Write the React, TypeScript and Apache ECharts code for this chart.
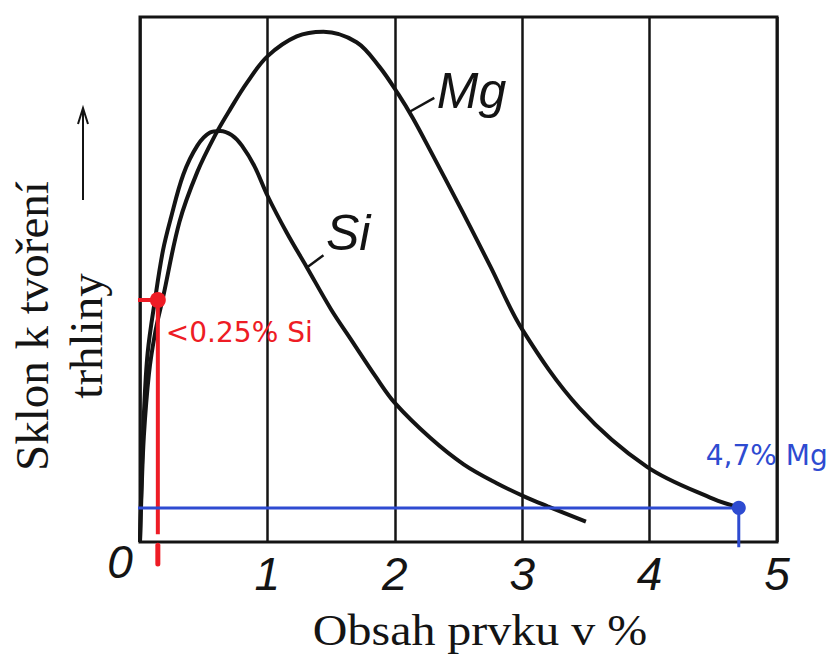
import React, { useEffect, useRef } from "react";
import * as echarts from "echarts";

// Obsah prvku (%) -> Sklon k tvoření trhliny (relative scale 0..100)
const mgX = [0, 0.01, 0.03, 0.07, 0.12, 0.18, 0.31, 0.45, 0.59, 0.71, 0.84, 1.0, 1.23, 1.44, 1.7, 1.88, 2.03, 2.14, 2.28, 2.54, 2.75, 3.0, 3.45, 3.98, 4.5, 4.7];
const mgY = [0, 8, 20, 32, 40, 46.5, 61, 70.5, 77.5, 82.5, 87.5, 92.5, 96.3, 97.2, 95.2, 90.5, 85.2, 80.8, 74.5, 62.5, 52.5, 40.5, 25.5, 14.3, 8.2, 6.6];

const siX = [0, 0.01, 0.03, 0.06, 0.12, 0.18, 0.24, 0.34, 0.45, 0.55, 0.63, 0.72, 0.8, 0.9, 1.0, 1.15, 1.31, 1.5, 1.65, 1.85, 2.0, 2.28, 2.54, 2.8, 3.04, 3.2, 3.5];
const siY = [0, 10, 24, 36, 46.5, 55.5, 61.5, 70, 75.5, 78, 78.3, 77.5, 75.5, 71.5, 66, 59, 52.3, 44.3, 38.8, 31.5, 26.5, 19.8, 14.8, 11.2, 8.4, 6.8, 3.9];

const xTickLabels = ["0", "1", "2", "3", "4", "5"];

// annotations
const siLimit = { x: 0.14, y: 46.1, label: "<0.25% Si" };
const mgLimit = { x: 4.7, y: 6.5, label: "4,7% Mg" };
const mgTag = { from: [2.12, 82], to: [2.31, 84.6], label: "Mg" };
const siTag = { from: [1.31, 52.3], to: [1.44, 54.6], label: "Si" };

const xTitle = "Obsah prvku v %";
const yTitle1 = "Sklon k tvoření";
const yTitle2 = "trhliny";

const RED = "#ee1c25";
const BLUE = "#2e4bd1";
const INK = "#141414";

function zip(xs: number[], ys: number[]) {
  return xs.map((x, i) => [x, ys[i]]);
}

export default function App() {
  const ref = useRef<HTMLDivElement>(null);
  useEffect(() => {
    if (!ref.current) return;
    const chart = echarts.init(ref.current, undefined, { renderer: "svg" });
    const tickFont = { fontFamily: "Liberation Sans", fontStyle: "italic", fontSize: 46, color: INK };
    chart.setOption({
      animation: false,
      grid: {
        left: 140,
        right: 54,
        top: 17,
        bottom: 113,
        show: true,
        borderColor: INK,
        borderWidth: 3,
        backgroundColor: "transparent",
      },
      xAxis: {
        type: "value",
        min: 0,
        max: 5,
        interval: 1,
        axisLine: { show: false },
        axisTick: { show: false },
        splitLine: { show: true, lineStyle: { color: INK, width: 2.5 } },
        axisLabel: {
          margin: 8,
          ...tickFont,
          lineHeight: 48,
          formatter: (v: number) => {
            const t = xTickLabels[Math.round(v)];
            return v === 0 ? `{z|${t}}` : `{n|${t}}`;
          },
          rich: {
            n: { ...tickFont, lineHeight: 48 },
            z: { ...tickFont, lineHeight: 24, padding: [0, 40, 0, 0] },
          },
        },
      },
      yAxis: {
        type: "value",
        min: 0,
        max: 100,
        axisLine: { show: false },
        axisTick: { show: false },
        axisLabel: { show: false },
        splitLine: { show: false },
      },
      graphic: [
        {
          type: "text",
          x: 480,
          y: 630,
          scaleX: 1.09,
          style: {
            text: xTitle,
            fontFamily: "Liberation Serif",
            fontSize: 44,
            fill: INK,
            align: "center",
            verticalAlign: "middle",
          },
        },
        {
          type: "text",
          x: 32,
          y: 326,
          rotation: Math.PI / 2,
          style: {
            text: yTitle1,
            fontFamily: "Liberation Serif",
            fontSize: 47,
            fill: INK,
            align: "center",
            verticalAlign: "middle",
          },
        },
        {
          type: "text",
          x: 86,
          y: 336,
          rotation: Math.PI / 2,
          style: {
            text: yTitle2,
            fontFamily: "Liberation Serif",
            fontSize: 47,
            fill: INK,
            align: "center",
            verticalAlign: "middle",
          },
        },
        {
          type: "line",
          shape: { x1: 83, y1: 200, x2: 83, y2: 109 },
          style: { stroke: INK, lineWidth: 2 },
        },
        {
          type: "polyline",
          shape: { points: [[78, 124], [83, 108], [88, 124]] },
          style: { stroke: INK, lineWidth: 2, fill: "none" },
        },
      ],
      series: [
        {
          name: "Mg",
          type: "line",
          data: zip(mgX, mgY),
          smooth: 0.35,
          showSymbol: false,
          lineStyle: { color: INK, width: 4 },
          z: 3,
        },
        {
          name: "Si",
          type: "line",
          data: zip(siX, siY),
          smooth: 0.35,
          showSymbol: false,
          lineStyle: { color: INK, width: 4 },
          z: 3,
        },
        {
          type: "line",
          data: [mgTag.from, mgTag.to],
          showSymbol: false,
          lineStyle: { color: INK, width: 2.5 },
          z: 3,
        },
        {
          type: "line",
          data: [siTag.from, siTag.to],
          showSymbol: false,
          lineStyle: { color: INK, width: 2.5 },
          z: 3,
        },
        {
          type: "scatter",
          symbolSize: 1,
          itemStyle: { color: "transparent", opacity: 1 },
          data: [
            { value: mgTag.to, name: mgTag.label, label: { offset: [0, -7] } },
            { value: siTag.to, name: siTag.label, label: { offset: [0, -22] } },
          ],
          label: {
            show: true,
            position: "right",
            distance: 2,
            formatter: "{b}",
            fontFamily: "Liberation Sans",
            fontStyle: "italic",
            fontSize: 50,
            color: INK,
          },
          z: 4,
        },
        // red marker for Si limit
        {
          type: "line",
          clip: false,
          data: [[-0.155, siLimit.y], [siLimit.x, siLimit.y], [siLimit.x, 1.5]],
          showSymbol: false,
          lineStyle: { color: RED, width: 4 },
          z: 5,
        },
        {
          type: "line",
          clip: false,
          data: [[siLimit.x, -0.6], [siLimit.x, -4.2]],
          showSymbol: false,
          lineStyle: { color: RED, width: 5, cap: "round" },
          z: 5,
        },
        {
          type: "scatter",
          clip: false,
          data: [[siLimit.x, siLimit.y]],
          symbolSize: 16,
          itemStyle: { color: RED, opacity: 1 },
          label: {
            show: true,
            position: "right",
            distance: 0,
            offset: [0, 33],
            formatter: siLimit.label,
            fontFamily: "DejaVu Sans",
            fontSize: 28,
            color: RED,
          },
          z: 6,
        },
        // blue marker for Mg limit
        {
          type: "line",
          clip: false,
          data: [[-0.155, mgLimit.y], [mgLimit.x, mgLimit.y], [mgLimit.x, -1]],
          showSymbol: false,
          lineStyle: { color: BLUE, width: 3 },
          z: 5,
        },
        {
          type: "scatter",
          clip: false,
          data: [[mgLimit.x, mgLimit.y]],
          symbolSize: 14,
          itemStyle: { color: BLUE, opacity: 1 },
          label: {
            show: true,
            position: "top",
            distance: 5,
            offset: [28, -26],
            formatter: mgLimit.label,
            fontFamily: "DejaVu Sans",
            fontSize: 28,
            color: BLUE,
          },
          z: 6,
        },
      ],
    });
    return () => chart.dispose();
  }, []);
  return (
    <div
      ref={ref}
      style={{ position: "absolute", left: 0, top: 0, width: 831, height: 655, background: "#fff" }}
    />
  );
}
